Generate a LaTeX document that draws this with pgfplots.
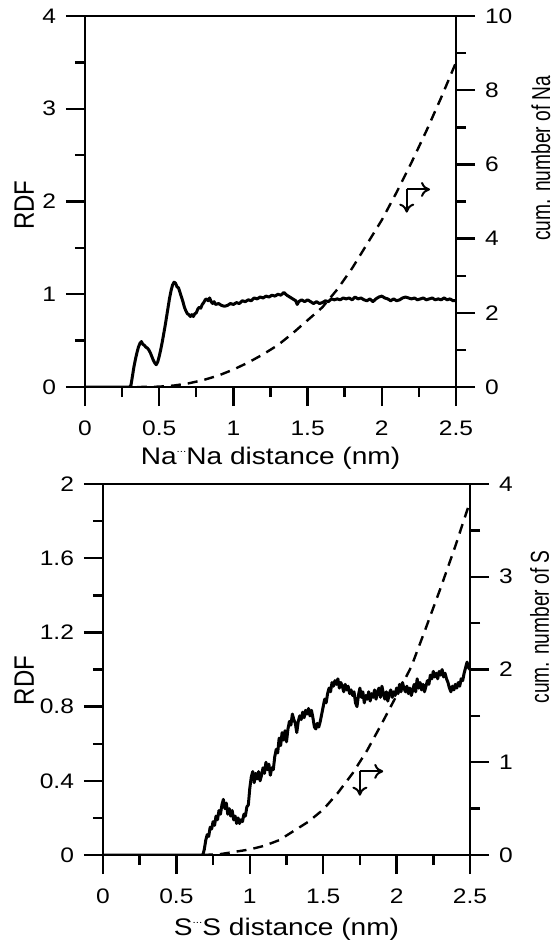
\documentclass[border=0pt]{standalone}
\usepackage{pgfplots}
\pgfplotsset{compat=1.18}
\usepackage{fontspec}
\setmainfont{Liberation Sans}
\usetikzlibrary{arrows.meta}

% Na...Na / S...S with small raised dots
\newcommand{\cdotsx}{\raisebox{0.5em}{\fontsize{5pt}{5pt}\selectfont...}}
\newcommand{\hs}[1]{\scalebox{1.17}[1]{#1}}
\newcommand{\vs}[1]{\scalebox{1}[1.17]{#1}}
\newcommand{\vsr}[1]{\scalebox{1}[1.35]{#1}}

\tikzset{annarrow/.style={black, line width=1pt, -{To[length=4.5pt,width=7.5pt]}}}

\pgfplotsset{
  rdfbase/.style={
    scale only axis, height=185.5pt,
    xmin=0, xmax=2.5,
    tick align=outside,
    major tick length=9.5pt, minor tick length=5pt,
    axis line style={line width=1.2pt},
    every tick/.style={black, line width=1.2pt},
    tick label style={font=\fontsize{10.5}{12}\selectfont},
    label style={font=\fontsize{12}{14}\selectfont},
    xticklabel={\hs{\pgfmathprintnumber[assume math mode=true]{\tick}}},
    yticklabel={\hs{\pgfmathprintnumber[assume math mode=true]{\tick}}},
  },
  leftax/.style={rdfbase,
    xtick={0,0.5,1,1.5,2,2.5}, minor x tick num=1,
    xtick pos=bottom, ytick pos=left, minor y tick num=1,
    xticklabel style={yshift=-4pt},
    yticklabel style={xshift=-1.5pt},
  },
  rightax/.style={rdfbase,
    axis x line=none, axis y line*=right,
    minor y tick num=1,
    yticklabel style={xshift=1.5pt},
    ylabel style={font=\fontsize{9.6}{11}\selectfont, inner sep=0.5pt},
  },
  rdf/.style={black, line width=1.5pt, line join=round},
  cum/.style={black, line width=1.2pt, dash pattern=on 5pt off 3.5pt},
}

\begin{document}
\begin{tikzpicture}
\useasboundingbox (0,0) rectangle (277pt,-471pt);

% ---------- top panel: Na...Na ----------
\begin{axis}[leftax, at={(42.5pt,-193.5pt)}, anchor=south west, width=185.5pt,
  ymin=0, ymax=4, ytick={0,1,2,3,4},
  ylabel={\vs{RDF}},
  ylabel style={at={(axis description cs:-0.164,0.49)}, anchor=center},
  xlabel={\hs{Na\cdotsx Na distance (nm)}},
  xlabel style={at={(axis description cs:0.5,-0.21)}, anchor=base},
]
\addplot[rdf] coordinates {
(0,0) (0.30,0) (0.31,0.02) (0.32,0.12) (0.33,0.22) (0.34,0.30) (0.35,0.37)
(0.36,0.43) (0.37,0.47) (0.38,0.49) (0.39,0.46) (0.40,0.45) (0.41,0.43)
(0.42,0.42) (0.43,0.40) (0.44,0.37) (0.45,0.33) (0.46,0.29) (0.47,0.26)
(0.48,0.24) (0.49,0.27) (0.50,0.33) (0.51,0.40) (0.52,0.48) (0.53,0.57)
(0.54,0.66) (0.55,0.76) (0.56,0.86) (0.57,0.96) (0.58,1.04) (0.59,1.10)
(0.60,1.13) (0.61,1.12) (0.62,1.08) (0.63,1.07) (0.64,1.02) (0.65,0.97)
(0.66,0.92) (0.67,0.86) (0.68,0.82) (0.69,0.79) (0.70,0.78) (0.71,0.76)
(0.72,0.78) (0.73,0.76) (0.74,0.79) (0.75,0.80) (0.76,0.84) (0.77,0.86)
(0.78,0.85) (0.79,0.89) (0.80,0.91) (0.81,0.94) (0.82,0.95) (0.83,0.93)
(0.84,0.96) (0.85,0.92) (0.86,0.90) (0.87,0.92) (0.88,0.89) (0.90,0.90)
(0.92,0.88) (0.94,0.87) (0.96,0.88) (0.98,0.90) (1.00,0.89) (1.02,0.91)
(1.04,0.90) (1.06,0.93) (1.08,0.92) (1.10,0.94) (1.12,0.93) (1.14,0.96)
(1.16,0.95) (1.18,0.97) (1.20,0.96) (1.22,0.98) (1.24,0.97) (1.26,0.99)
(1.28,0.98) (1.30,1.00) (1.32,0.99) (1.34,1.02) (1.36,0.99) (1.38,0.97)
(1.40,0.95) (1.42,0.93) (1.43,0.89) (1.44,0.92) (1.46,0.94) (1.48,0.92)
(1.50,0.94) (1.52,0.92) (1.54,0.90) (1.56,0.92) (1.58,0.90) (1.60,0.91)
(1.62,0.93) (1.64,0.92) (1.66,0.95) (1.68,0.94) (1.70,0.95) (1.72,0.94)
(1.74,0.96) (1.76,0.95) (1.78,0.96) (1.80,0.94) (1.82,0.97) (1.84,0.95)
(1.86,0.96) (1.88,0.94) (1.90,0.93) (1.92,0.95) (1.94,0.92) (1.96,0.95)
(1.98,0.97) (2.00,0.98) (2.02,0.96) (2.04,0.95) (2.06,0.93) (2.08,0.95)
(2.10,0.93) (2.12,0.94) (2.14,0.96) (2.16,0.97) (2.18,0.96) (2.20,0.95)
(2.22,0.96) (2.24,0.94) (2.26,0.95) (2.28,0.96) (2.30,0.94) (2.32,0.95)
(2.34,0.96) (2.36,0.94) (2.38,0.95) (2.40,0.94) (2.42,0.96) (2.44,0.94)
(2.46,0.95) (2.48,0.93) (2.50,0.93)
};
\draw[annarrow] (axis cs:2.168,2.13) -- (axis cs:2.168,1.88);
\draw[annarrow] (axis cs:2.168,2.13) -- (axis cs:2.325,2.13);
\end{axis}

\begin{axis}[rightax, at={(42.5pt,-193.5pt)}, anchor=south west, width=185.5pt,
  ymin=0, ymax=10, ytick={0,2,4,6,8,10},
  ylabel={\vsr{cum. number of Na}},
  ylabel style={at={(axis description cs:1.229,0.617)}, anchor=center},
]
\addplot[cum] coordinates {
(0.35,0) (0.45,0.005) (0.5,0.01) (0.6,0.04) (0.7,0.10) (0.8,0.19) (0.9,0.31)
(1.0,0.47) (1.1,0.66) (1.2,0.88) (1.3,1.13) (1.4,1.45) (1.5,1.80) (1.6,2.15)
(1.7,2.63) (1.8,3.20) (1.9,3.85) (2.0,4.50) (2.1,5.25) (2.2,6.05) (2.3,6.90)
(2.4,7.80) (2.5,8.75)
};
\end{axis}

% ---------- bottom panel: S...S ----------
\begin{axis}[leftax, at={(51.5pt,-427.5pt)}, anchor=south west, width=183.5pt,
  ymin=0, ymax=2, ytick={0,0.4,0.8,1.2,1.6,2},
  ylabel={\vs{RDF}},
  ylabel style={at={(axis description cs:-0.215,0.47)}, anchor=center},
  xlabel={\hs{S\cdotsx S distance (nm)}},
  xlabel style={at={(axis description cs:0.5,-0.216)}, anchor=base},
]
\addplot[rdf] coordinates {
(0,0) (0.68,0) (0.69,0.03) (0.70,0.08) (0.71,0.11) (0.72,0.10) (0.73,0.15)
(0.74,0.14) (0.75,0.18) (0.76,0.16) (0.77,0.21) (0.78,0.19) (0.79,0.24)
(0.80,0.22) (0.81,0.27) (0.82,0.30) (0.83,0.25) (0.84,0.28) (0.85,0.22)
(0.86,0.25) (0.87,0.21) (0.88,0.24) (0.89,0.19) (0.90,0.21) (0.91,0.17)
(0.92,0.20) (0.93,0.17) (0.94,0.19) (0.95,0.18) (0.96,0.22) (0.97,0.21)
(0.98,0.26) (0.99,0.27) (1.00,0.36) (1.01,0.42) (1.02,0.45) (1.03,0.39)
(1.04,0.44) (1.05,0.41) (1.06,0.45) (1.07,0.40) (1.08,0.43) (1.09,0.47)
(1.10,0.44) (1.11,0.50) (1.12,0.46) (1.13,0.49) (1.14,0.43) (1.15,0.47)
(1.16,0.46) (1.17,0.53) (1.18,0.57) (1.19,0.55) (1.20,0.63) (1.21,0.59)
(1.22,0.66) (1.23,0.62) (1.24,0.67) (1.25,0.61) (1.26,0.68) (1.27,0.72)
(1.28,0.70) (1.29,0.76) (1.30,0.73) (1.31,0.71) (1.32,0.66) (1.33,0.72)
(1.34,0.75) (1.35,0.73) (1.36,0.77) (1.37,0.74) (1.38,0.78) (1.39,0.76)
(1.40,0.79) (1.41,0.75) (1.42,0.78) (1.43,0.74) (1.44,0.69) (1.45,0.68)
(1.46,0.71) (1.47,0.69) (1.48,0.72) (1.49,0.76) (1.50,0.80) (1.51,0.84)
(1.52,0.82) (1.53,0.87) (1.54,0.90) (1.55,0.88) (1.56,0.93) (1.57,0.91)
(1.58,0.94) (1.59,0.92) (1.60,0.95) (1.61,0.90) (1.62,0.93) (1.63,0.91)
(1.64,0.88) (1.65,0.92) (1.66,0.89) (1.67,0.91) (1.68,0.87) (1.69,0.89)
(1.70,0.86) (1.71,0.88) (1.72,0.82) (1.73,0.80) (1.74,0.86) (1.75,0.90)
(1.76,0.85) (1.77,0.88) (1.78,0.82) (1.79,0.86) (1.80,0.84) (1.81,0.88)
(1.82,0.83) (1.83,0.87) (1.84,0.85) (1.85,0.89) (1.86,0.84) (1.87,0.88)
(1.88,0.90) (1.89,0.85) (1.90,0.91) (1.91,0.87) (1.92,0.84) (1.93,0.88)
(1.94,0.83) (1.95,0.87) (1.96,0.89) (1.97,0.85) (1.98,0.88) (1.99,0.86)
(2.00,0.90) (2.01,0.87) (2.02,0.92) (2.03,0.88) (2.04,0.93) (2.05,0.90)
(2.06,0.88) (2.07,0.91) (2.08,0.87) (2.09,0.90) (2.10,0.86) (2.11,0.89)
(2.12,0.92) (2.13,0.88) (2.14,0.95) (2.15,0.90) (2.16,0.93) (2.17,0.89)
(2.18,0.92) (2.19,0.88) (2.20,0.91) (2.21,0.94) (2.22,0.92) (2.23,0.97)
(2.24,0.95) (2.25,0.99) (2.26,0.96) (2.27,0.98) (2.28,0.95) (2.29,0.99)
(2.30,0.97) (2.31,1.00) (2.32,0.96) (2.33,0.98) (2.34,0.95) (2.35,0.93)
(2.36,0.90) (2.37,0.88) (2.38,0.91) (2.39,0.89) (2.40,0.92) (2.41,0.90)
(2.42,0.93) (2.43,0.91) (2.44,0.95) (2.45,0.94) (2.46,0.98) (2.47,1.01)
(2.48,1.04) (2.49,1.01) (2.50,1.00)
};
\draw[annarrow] (axis cs:1.75,0.451) -- (axis cs:1.75,0.32);
\draw[annarrow] (axis cs:1.75,0.451) -- (axis cs:1.909,0.451);
\end{axis}

\begin{axis}[rightax, at={(51.5pt,-427.5pt)}, anchor=south west, width=183.5pt,
  ymin=0, ymax=4, ytick={0,1,2,3,4},
  ylabel={\vsr{cum. number of S}},
  ylabel style={at={(axis description cs:1.19,0.615)}, anchor=center},
]
\addplot[cum] coordinates {
(0.68,0) (0.8,0.01) (0.9,0.035) (1.0,0.06) (1.1,0.10) (1.2,0.16) (1.3,0.26)
(1.4,0.36) (1.5,0.49) (1.6,0.67) (1.7,0.88) (1.8,1.13) (1.9,1.42) (2.0,1.72)
(2.1,2.03) (2.2,2.45) (2.3,2.88) (2.4,3.33) (2.5,3.81)
};
\end{axis}
\end{tikzpicture}
\end{document}
